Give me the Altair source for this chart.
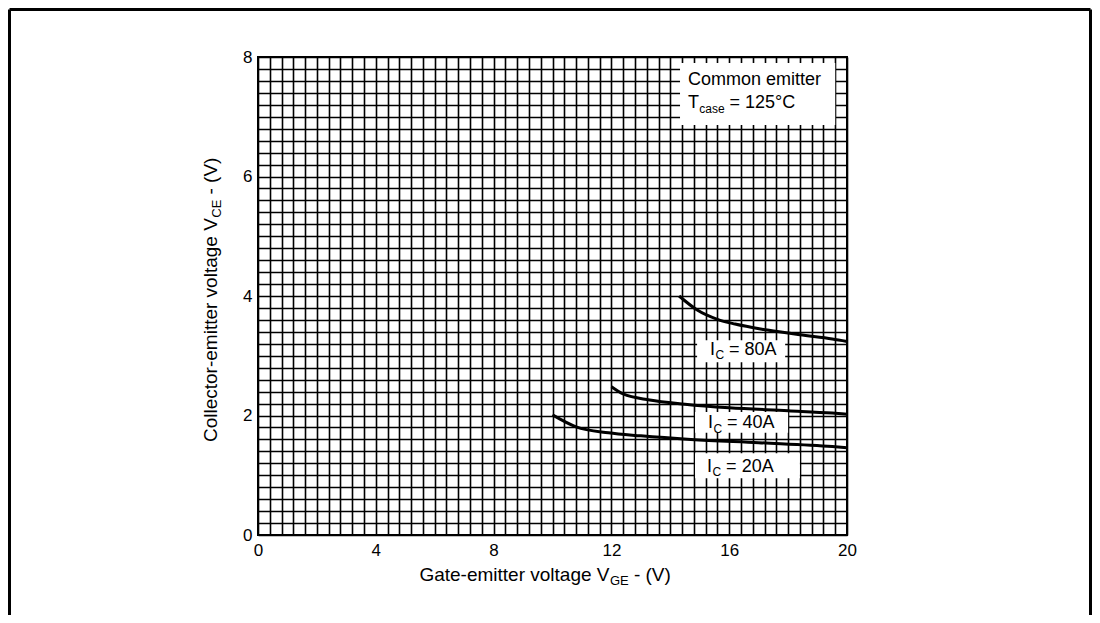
import altair as alt
import pandas as pd

# ---------------- data ----------------
vge_80 = [14.3, 14.9, 15.6, 16.2, 17.3, 18.4, 19.5, 20.0]
vce_80 = [4.0, 3.77, 3.61, 3.53, 3.43, 3.35, 3.28, 3.24]
vge_40 = [12.0, 12.4, 13.3, 14.5, 16.0, 18.0, 19.5, 20.0]
vce_40 = [2.48, 2.36, 2.26, 2.19, 2.13, 2.08, 2.04, 2.02]
vge_20 = [10.0, 10.8, 11.9, 13.0, 14.7, 17.0, 19.5, 20.0]
vce_20 = [2.01, 1.81, 1.71, 1.66, 1.60, 1.545, 1.48, 1.46]

x_ticks = [0, 4, 8, 12, 16, 20]
y_ticks = [0, 2, 4, 6, 8]
x_grid = [round(i * 0.4, 1) for i in range(51)]
y_grid = [round(i * 0.2, 1) for i in range(41)]

FONT = "Liberation Sans"
W, H = 589, 478
XD, YD = [0, 20], [0, 8]

xaxis = alt.Axis(values=x_grid, grid=True, ticks=False, domain=False,
                 labelExpr="datum.value % 4 === 0 ? format(datum.value, 'd') : ''",
                 labelOverlap=False, labelFlush=False, labelFont=FONT, labelFontSize=17,
                 labelColor="black", labelPadding=7, title=None,
                 gridColor="black", gridWidth=1.6, gridOpacity=1)
yaxis = alt.Axis(values=y_grid, grid=True, ticks=False, domain=False,
                 labelExpr="datum.value % 2 === 0 ? format(datum.value, 'd') : ''",
                 labelOverlap=False, labelFlush=False, labelFont=FONT, labelFontSize=17,
                 labelColor="black", labelPadding=6, title=None,
                 gridColor="black", gridWidth=1.6, gridOpacity=1)


def X(field="x"):
    return alt.X(field, type="quantitative", scale=alt.Scale(domain=XD, nice=False, zero=False), axis=xaxis)


def Y(field="y"):
    return alt.Y(field, type="quantitative", scale=alt.Scale(domain=YD, nice=False, zero=False), axis=yaxis)


curves = pd.concat([
    pd.DataFrame({"x": vge_80, "y": vce_80, "s": "80A"}),
    pd.DataFrame({"x": vge_40, "y": vce_40, "s": "40A"}),
    pd.DataFrame({"x": vge_20, "y": vce_20, "s": "20A"}),
])

lines = alt.Chart(curves).mark_line(color="black", strokeWidth=3, interpolate="monotone").encode(
    x=X("x"), y=Y("y"), detail="s:N")

# white boxes behind the in-plot labels
boxes = pd.DataFrame({
    "x": [14.91, 14.84, 14.84, 14.33],
    "x2": [17.9, 18.0, 18.4, 19.6],
    "y": [3.26, 2.06, 1.37, 7.9],
    "y2": [2.89, 1.71, 0.95, 6.86],
})
box_layer = alt.Chart(boxes).mark_rect(color="white").encode(
    x=X("x"), x2="x2", y=Y("y"), y2="y2")


def piece(xv, yv, text, size, dx=0, dy=0, angle=0):
    df = pd.DataFrame({"x": [xv], "y": [yv], "t": [text]})
    kw = dict(font=FONT, fontSize=size, color="black", align="left",
              baseline="middle", dx=dx, dy=dy)
    if angle:
        kw["angle"] = angle
    return alt.Chart(df).mark_text(**kw).encode(x=X("x"), y=Y("y"), text="t:N")


texts = []
# curve labels  I_C = ..A
for (lx, ly, lab) in [(15.35, 3.10, "= 80A"), (15.28, 1.87, "= 40A"), (15.25, 1.14, "= 20A")]:
    texts += [piece(lx, ly, "I", 18), piece(lx, ly, "C", 12, dx=5.4, dy=5.5),
              piece(lx, ly, lab, 18, dx=19)]

# top-right note
texts += [piece(14.6, 7.62, "Common emitter", 18),
          piece(14.6, 7.23, "T", 18), piece(14.6, 7.23, "case", 12, dx=11.3, dy=5.5),
          piece(14.6, 7.23, "= 125°C", 18, dx=41.5)]

# x-axis title
texts += [piece(5.48, -0.67, "Gate-emitter voltage V", 19),
          piece(5.48, -0.67, "GE", 13, dx=190.5, dy=6),
          piece(5.48, -0.67, "- (V)", 19, dx=214.5)]

# y-axis title (rotated)
texts += [piece(-1.6, 1.556, "Collector-emitter voltage V", 19, angle=270),
          piece(-1.6, 1.556, "CE", 13, dx=224.3, dy=6, angle=270),
          piece(-1.6, 1.556, "- (V)", 19, dx=247.5, angle=270)]

# outer frame (decoration)
frame_df = pd.DataFrame({"x": [0.0], "y": [0.0]})
frame = [
    alt.Chart(frame_df).mark_rule(color="black", strokeWidth=3).encode(
        x=alt.value(-248.5), y=alt.value(-47.5), y2=alt.value(570)),
    alt.Chart(frame_df).mark_rule(color="black", strokeWidth=3).encode(
        x=alt.value(832.5), y=alt.value(-47.5), y2=alt.value(570)),
    alt.Chart(frame_df).mark_rule(color="black", strokeWidth=3).encode(
        x=alt.value(-248.5), x2=alt.value(832.5), y=alt.value(-47.5)),
]

chart = alt.layer(box_layer, lines, *texts, *frame).properties(
    width=W, height=H,
    background="white",
    autosize=alt.AutoSizeParams(type="none"),
    padding={"left": 250, "top": 49, "right": 245, "bottom": 80},
).configure_view(stroke="black", strokeWidth=2)

chart.save("out.html", embed_options={"renderer": "svg", "actions": False})
